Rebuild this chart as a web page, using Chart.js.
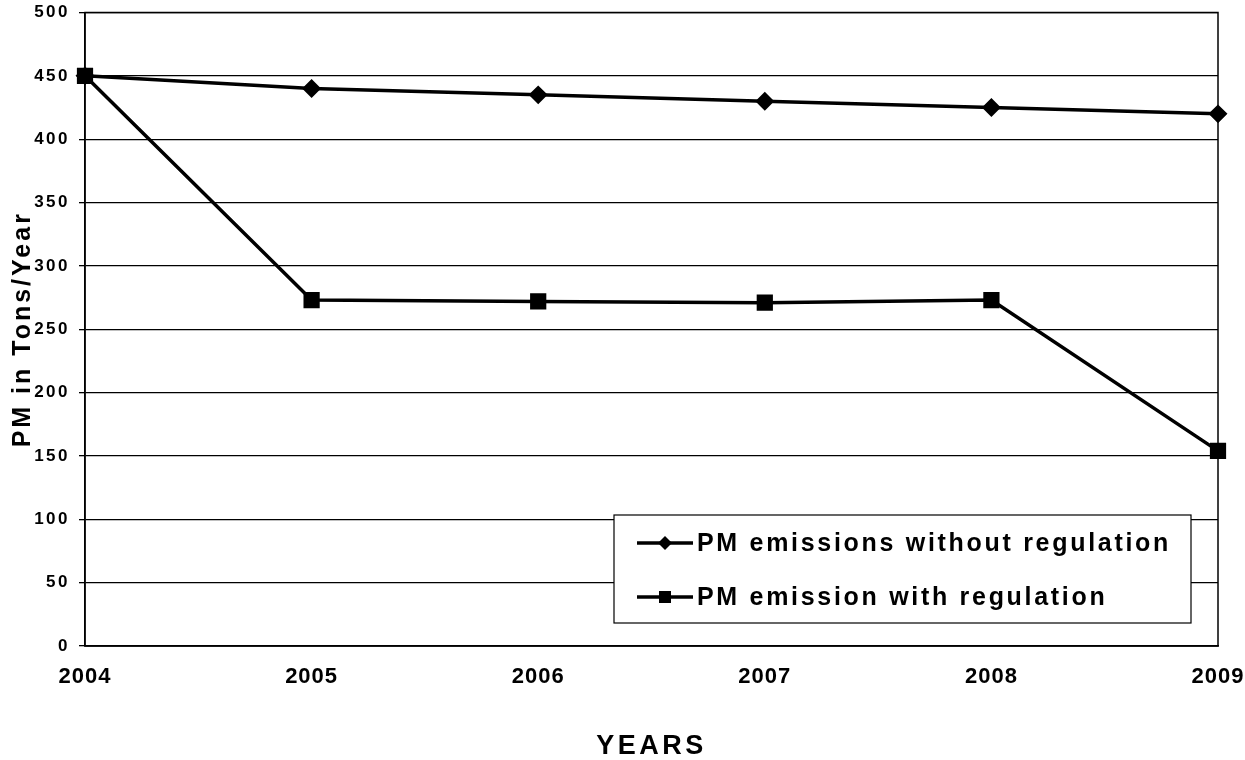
<!DOCTYPE html>
<html>
<head>
<meta charset="utf-8">
<script src="https://cdn.jsdelivr.net/npm/chart.js@4"></script>
<style>
  html, body { margin: 0; padding: 0; background: #fff; }
  #wrap { width: 1245px; height: 760px; }
</style>
</head>
<body>
<div id="wrap"><canvas id="pmChart" width="1245" height="760"></canvas></div>
<script>
const years = ['2004', '2005', '2006', '2007', '2008', '2009'];
const withoutRegulation = [450, 440, 435, 430, 425, 420];
const withRegulation = [450, 273, 272, 271, 273, 154];
const yTicks = [0, 50, 100, 150, 200, 250, 300, 350, 400, 450, 500];

const seriesNames = ['PM emissions without regulation', 'PM emission with regulation'];
const FONT = '"Liberation Sans", Arial, sans-serif';

// spaced-out lettering of the scan, per scale: [tick labels, title]
const letterGaps = { x: ['1px', '3.5px'], y: ['2.5px', '3px'] };

const spacing = {
  id: 'spacing',
  afterLayout(chart) {
    Object.values(chart.scales).forEach(scale => {
      if (scale._spaced) return;
      scale._spaced = true;
      const gaps = letterGaps[scale.id] || ['0px', '0px'];
      const labels = scale.drawLabels, title = scale.drawTitle;
      scale.drawLabels = function (area) {
        this.ctx.save(); this.ctx.letterSpacing = gaps[0];
        labels.call(this, area);
        this.ctx.restore();
      };
      scale.drawTitle = function (area) {
        this.ctx.save(); this.ctx.letterSpacing = gaps[1];
        title.call(this, area);
        this.ctx.restore();
      };
    });
  }
};

// frame round the plot
const frame = {
  id: 'frame',
  afterDatasetsDraw(chart) {
    const { ctx, chartArea: a } = chart;
    ctx.save();
    ctx.strokeStyle = '#000';
    ctx.lineWidth = 1.5;
    ctx.strokeRect(a.left, a.top, a.right - a.left, a.bottom - a.top);
    ctx.restore();
  }
};

// boxed legend inside the plot
const boxLegend = {
  id: 'boxLegend',
  afterDraw(chart) {
    const ctx = chart.ctx;
    const x0 = 614, y0 = 515, w = 577, h = 108;
    ctx.save();
    ctx.fillStyle = '#fff';
    ctx.fillRect(x0, y0, w, h);
    ctx.strokeStyle = '#000';
    ctx.lineWidth = 1.2;
    ctx.strokeRect(x0, y0, w, h);
    ctx.font = 'bold 25px ' + FONT;
    ctx.letterSpacing = '2.7px';
    ctx.textBaseline = 'middle';
    ctx.fillStyle = '#000';
    chart.data.datasets.forEach((ds, i) => {
      const y = y0 + 28 + i * 54;
      ctx.lineWidth = 3.5;
      ctx.beginPath();
      ctx.moveTo(x0 + 23, y);
      ctx.lineTo(x0 + 79, y);
      ctx.stroke();
      const cx = x0 + 51;
      ctx.beginPath();
      if (ds.pointStyle === 'rectRot') {
        ctx.moveTo(cx, y - 7); ctx.lineTo(cx + 7, y); ctx.lineTo(cx, y + 7); ctx.lineTo(cx - 7, y);
      } else {
        ctx.rect(cx - 6, y - 6, 12, 12);
      }
      ctx.closePath();
      ctx.fill();
      ctx.fillText(ds.label, x0 + 83, y + 1);
    });
    ctx.restore();
  }
};

new Chart(document.getElementById('pmChart'), {
  type: 'line',
  data: {
    labels: years,
    datasets: [{
      label: seriesNames[0],
      data: withoutRegulation,
      borderColor: '#000',
      backgroundColor: '#000',
      borderWidth: 3.5,
      pointStyle: 'rectRot',
      pointRadius: 7,
      pointHoverRadius: 7,
      tension: 0
    }, {
      label: seriesNames[1],
      data: withRegulation,
      borderColor: '#000',
      backgroundColor: '#000',
      borderWidth: 3.5,
      pointStyle: 'rect',
      pointRadius: 9,
      pointHoverRadius: 9,
      tension: 0
    }]
  },
  options: {
    responsive: false,
    animation: false,
    layout: { padding: { top: 12, right: 27, left: 0, bottom: 0 } },
    plugins: {
      legend: { display: false },
      tooltip: { enabled: false }
    },
    scales: {
      x: {
        grid: { display: true, drawOnChartArea: false, drawTicks: false },
        border: { display: true, color: '#000', width: 1.5 },
        ticks: {
          color: '#000',
          padding: 18,
          maxRotation: 0,
          font: { family: FONT, size: 22, weight: 'bold' }
        },
        title: {
          display: true,
          text: 'YEARS',
          color: '#000',
          padding: { top: 0, bottom: 0 },
          font: { family: FONT, size: 27, weight: 'bold', lineHeight: 1.0 }
        },
        afterFit(scale) {
          scale.height = 114;
          scale.paddingLeft = 0;
          scale.paddingRight = 0;
        }
      },
      y: {
        min: 0,
        max: 500,
        afterBuildTicks(scale) { scale.ticks = yTicks.map(v => ({ value: v })); },
        grid: { color: '#000', lineWidth: 1.3, tickLength: 6 },
        border: { display: true, color: '#000', width: 1.5 },
        ticks: {
          color: '#000',
          padding: 9,
          font: { family: FONT, size: 17, weight: 'bold' }
        },
        title: {
          display: true,
          text: 'PM in Tons/Year',
          color: '#000',
          padding: { top: 8, bottom: 0 },
          font: { family: FONT, size: 25, weight: 'bold' }
        },
        afterFit(scale) {
          scale.width = 85;
          scale.paddingTop = 0;
          scale.paddingBottom = 0;
        }
      }
    }
  },
  plugins: [spacing, frame, boxLegend]
});
</script>
</body>
</html>
